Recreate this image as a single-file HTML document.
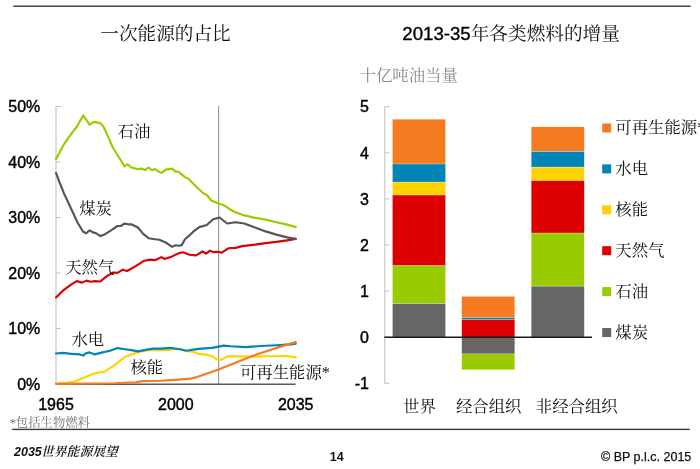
<!DOCTYPE html>
<html lang="zh-CN">
<head>
<meta charset="utf-8">
<title>2035世界能源展望</title>
<style>
html,body{margin:0;padding:0;background:#fff;}
body{width:700px;height:469px;overflow:hidden;font-family:"Liberation Sans","Noto Serif CJK SC",sans-serif;}
svg{display:block;}
text{fill:#111;}
.a16{font-family:"Liberation Sans",sans-serif;font-size:16px;fill:#000;stroke:#000;stroke-width:0.4px;}
.hv{fill:#000;stroke:#000;stroke-width:0.35px;}
.c16{font-family:"Liberation Sans","Noto Serif CJK SC",serif;font-size:16.4px;}
.ast{font-family:"Liberation Serif",serif;}
.title{font-family:"Liberation Sans","Noto Serif CJK SC",serif;font-size:18.65px;}
.sub{font-family:"Liberation Sans","Noto Serif CJK SC",serif;font-size:16.4px;fill:#8a8a8a;}
.fn{font-family:"Liberation Sans","Noto Serif CJK SC",serif;font-size:12.4px;fill:#737373;}
.ft{font-family:"Liberation Sans","Noto Serif CJK SC",serif;font-size:12.5px;}
</style>
</head>
<body>
<svg width="700" height="469" viewBox="0 0 700 469">
<rect x="0" y="0" width="700" height="469" fill="#ffffff"/>
<!-- rules -->
<rect x="13.2" y="5.5" width="677.5" height="1.4" fill="#3a3a3a"/>
<rect x="12.2" y="428.7" width="677.5" height="1.4" fill="#3a3a3a"/>

<!-- titles -->
<text class="title" x="165.5" y="39.6" text-anchor="middle">一次能源的占比</text>
<text class="title" x="402.3" y="39.9"><tspan class="hv">2013-35</tspan>年各类燃料的增量</text>
<text class="sub" x="359.5" y="80.6">十亿吨油当量</text>

<!-- line chart axes -->
<line x1="56" y1="106" x2="56" y2="384" stroke="#bfbfbf" stroke-width="1"/>
<line x1="56" y1="106.5" x2="60.5" y2="106.5" stroke="#bfbfbf" stroke-width="1"/>
<text class="a16" x="40.3" y="389.7" text-anchor="end">0%</text>
<line x1="56" y1="328.5" x2="60.5" y2="328.5" stroke="#bfbfbf" stroke-width="1"/>
<text class="a16" x="40.3" y="334.2" text-anchor="end">10%</text>
<line x1="56" y1="273.0" x2="60.5" y2="273.0" stroke="#bfbfbf" stroke-width="1"/>
<text class="a16" x="40.3" y="278.7" text-anchor="end">20%</text>
<line x1="56" y1="217.5" x2="60.5" y2="217.5" stroke="#bfbfbf" stroke-width="1"/>
<text class="a16" x="40.3" y="223.2" text-anchor="end">30%</text>
<line x1="56" y1="162.0" x2="60.5" y2="162.0" stroke="#bfbfbf" stroke-width="1"/>
<text class="a16" x="40.3" y="167.7" text-anchor="end">40%</text>
<line x1="56" y1="106.5" x2="60.5" y2="106.5" stroke="#bfbfbf" stroke-width="1"/>
<text class="a16" x="40.3" y="112.2" text-anchor="end">50%</text>
<line x1="218.6" y1="106" x2="218.6" y2="384" stroke="#949494" stroke-width="1.1"/>
<line x1="56" y1="384.2" x2="295.6" y2="384.2" stroke="#595959" stroke-width="1.5"/>

<!-- series -->
<polyline points="56.0,158.9 59.6,152.5 62.9,146.1 67.1,139.6 72.5,132.1 76.8,126.8 83.2,115.4 89.6,124.6 93.9,121.9 100.4,123.1 103.6,126.8 107.9,136.4 113.2,148.2 118.6,156.8 124.4,166.4 127.6,164.3 131.4,167.5 137.9,169.2 141.1,168.6 145.4,169.9 148.6,167.5 151.8,170.3 155.0,169.0 158.2,171.4 161.4,172.9 165.7,169.6 172.1,168.6 175.4,171.4 178.6,171.8 185.0,177.1 188.6,178.9 197.1,187.5 203.6,193.5 206.8,195.0 211.1,200.4 218.6,203.6 223.9,205.3 233.6,211.5 244.3,215.4 255.0,217.9 265.7,219.6 276.4,222.2 287.1,224.6 295.7,227.1" fill="none" stroke="#99cc00" stroke-width="2.15" stroke-linejoin="round" stroke-linecap="round"/>
<polyline points="56.0,297.6 62.9,290.7 71.4,284.3 76.8,281.1 82.1,282.6 86.4,280.6 90.7,281.7 95.0,281.1 100.4,281.5 106.8,276.1 113.2,272.5 117.5,272.9 122.9,269.7 127.1,271.0 135.7,266.1 144.3,260.7 150.7,259.6 155.0,260.3 161.4,257.1 164.6,259.0 172.1,256.4 178.6,253.2 182.9,252.3 189.6,254.7 196.1,255.4 202.5,251.5 206.1,253.6 210.0,250.6 213.2,252.1 217.5,251.7 221.8,252.6 228.2,248.3 235.7,247.9 242.1,246.1 255.0,244.6 265.7,243.1 276.4,241.9 287.1,240.4 295.7,238.9" fill="none" stroke="#dc0000" stroke-width="2.15" stroke-linejoin="round" stroke-linecap="round"/>
<polyline points="56.0,172.9 59.6,182.5 63.9,193.2 70.4,207.1 77.9,223.2 83.2,231.8 86.4,233.3 89.6,230.3 92.9,232.4 96.1,233.3 100.4,236.1 104.6,234.4 111.1,230.3 117.5,226.0 120.7,226.0 124.4,223.6 128.2,224.3 131.4,224.3 137.9,227.5 143.2,233.9 148.6,238.2 155.0,239.3 159.3,239.7 165.7,242.5 172.1,246.8 175.4,245.3 179.6,245.7 181.8,245.1 185.0,239.3 190.4,234.6 193.5,231.4 199.3,227.1 206.8,225.0 213.2,219.2 219.6,217.5 227.1,223.5 235.7,222.2 244.3,223.5 255.0,227.6 265.7,231.4 276.4,234.6 287.1,237.4 295.7,238.9" fill="none" stroke="#555555" stroke-width="2.15" stroke-linejoin="round" stroke-linecap="round"/>
<polyline points="56.0,383.5 67.1,382.9 73.6,381.8 82.1,378.6 92.9,373.9 100.4,372.1 103.6,372.1 114.3,365.3 123.9,357.6 131.4,354.4 140.0,351.8 148.6,350.3 157.1,350.1 165.7,350.1 174.3,349.2 180.0,348.8 186.4,351.1 192.9,351.8 199.3,353.9 205.7,354.6 212.1,356.1 215.2,358.5 218.6,360.0 221.6,359.6 227.5,356.4 237.9,356.2 252.8,356.6 268.5,356.3 287.4,356.1 295.7,357.3" fill="none" stroke="#ffd200" stroke-width="2.15" stroke-linejoin="round" stroke-linecap="round"/>
<polyline points="56.0,353.5 62.9,352.9 71.4,353.9 80.0,354.4 83.2,355.6 85.4,353.5 89.6,352.4 95.0,354.4 100.4,352.9 110.0,350.7 117.5,348.1 125.0,349.2 131.4,350.1 137.9,351.4 144.3,350.1 152.9,348.6 161.4,348.6 170.0,347.9 178.6,349.0 186.4,350.7 192.9,349.6 201.4,348.6 212.1,347.9 218.6,346.6 223.8,345.6 230.9,346.3 245.0,347.1 260.7,346.0 276.4,345.2 290.6,344.4 295.7,343.7" fill="none" stroke="#0085b6" stroke-width="2.15" stroke-linejoin="round" stroke-linecap="round"/>
<polyline points="56.0,383.9 114.3,383.3 135.7,382.4 142.1,381.1 161.4,380.7 178.6,379.6 190.7,378.6 197.1,377.1 205.7,373.9 218.6,369.6 233.6,363.6 255.0,355.0 276.4,347.9 295.7,342.1" fill="none" stroke="#f47b20" stroke-width="2.15" stroke-linejoin="round" stroke-linecap="round"/>

<!-- series labels -->
<text class="c16" x="117.6" y="137">石油</text>
<text class="c16" x="79.2" y="213.8">煤炭</text>
<text class="c16" x="65.2" y="273">天然气</text>
<text class="c16" x="71.4" y="345.3">水电</text>
<text class="c16" x="130.4" y="372.8">核能</text>
<text class="c16" x="239.9" y="377.8">可再生能源<tspan class="ast">*</tspan></text>

<!-- x labels -->
<text class="a16" x="56" y="410.1" text-anchor="middle">1965</text>
<text class="a16" x="175.8" y="410.1" text-anchor="middle">2000</text>
<text class="a16" x="295.7" y="410.1" text-anchor="middle">2035</text>
<text class="fn" x="9.6" y="427"><tspan class="ast" font-size="13.5" dy="-0.4">*</tspan><tspan dy="0.4" dx="-0.5">包括生物燃料</tspan></text>

<!-- bar chart -->
<line x1="384.8" y1="106.5" x2="384.8" y2="383.6" stroke="#bfbfbf" stroke-width="1"/>
<line x1="384.8" y1="383.3" x2="389.5" y2="383.3" stroke="#bfbfbf" stroke-width="1"/>
<text class="a16" x="369" y="389.0" text-anchor="end">-1</text>
<line x1="384.8" y1="337.2" x2="389.5" y2="337.2" stroke="#bfbfbf" stroke-width="1"/>
<text class="a16" x="369" y="342.9" text-anchor="end">0</text>
<line x1="384.8" y1="291.1" x2="389.5" y2="291.1" stroke="#bfbfbf" stroke-width="1"/>
<text class="a16" x="369" y="296.8" text-anchor="end">1</text>
<line x1="384.8" y1="245.0" x2="389.5" y2="245.0" stroke="#bfbfbf" stroke-width="1"/>
<text class="a16" x="369" y="250.7" text-anchor="end">2</text>
<line x1="384.8" y1="198.9" x2="389.5" y2="198.9" stroke="#bfbfbf" stroke-width="1"/>
<text class="a16" x="369" y="204.6" text-anchor="end">3</text>
<line x1="384.8" y1="152.8" x2="389.5" y2="152.8" stroke="#bfbfbf" stroke-width="1"/>
<text class="a16" x="369" y="158.5" text-anchor="end">4</text>
<line x1="384.8" y1="106.7" x2="389.5" y2="106.7" stroke="#bfbfbf" stroke-width="1"/>
<text class="a16" x="369" y="112.4" text-anchor="end">5</text>
<rect x="392.6" y="119.4" width="52.8" height="44.5" fill="#f47b20"/>
<rect x="392.6" y="163.9" width="52.8" height="18.2" fill="#0085b6"/>
<rect x="392.6" y="182.1" width="52.8" height="12.9" fill="#ffd200"/>
<rect x="392.6" y="195.0" width="52.8" height="70.7" fill="#dc0000"/>
<rect x="392.6" y="265.7" width="52.8" height="38.0" fill="#99cc00"/>
<rect x="392.6" y="303.7" width="52.8" height="33.5" fill="#666666"/>
<rect x="392.6" y="163.6" width="52.8" height="0.7" fill="#fff" opacity="0.45"/>
<rect x="392.6" y="181.8" width="52.8" height="0.7" fill="#fff" opacity="0.45"/>
<rect x="392.6" y="194.7" width="52.8" height="0.7" fill="#fff" opacity="0.45"/>
<rect x="392.6" y="265.3" width="52.8" height="0.7" fill="#fff" opacity="0.45"/>
<rect x="392.6" y="303.3" width="52.8" height="0.7" fill="#fff" opacity="0.45"/>
<rect x="461.8" y="296.5" width="52.8" height="21.0" fill="#f47b20"/>
<rect x="461.8" y="317.5" width="52.8" height="2.1" fill="#0085b6"/>
<rect x="461.8" y="319.6" width="52.8" height="17.6" fill="#dc0000"/>
<rect x="461.8" y="337.2" width="52.8" height="16.7" fill="#666666"/>
<rect x="461.8" y="353.9" width="52.8" height="15.7" fill="#99cc00"/>
<rect x="461.8" y="317.1" width="52.8" height="0.7" fill="#fff" opacity="0.45"/>
<rect x="461.8" y="319.2" width="52.8" height="0.7" fill="#fff" opacity="0.45"/>
<rect x="461.8" y="353.5" width="52.8" height="0.7" fill="#fff" opacity="0.45"/>
<rect x="531.4" y="126.9" width="52.8" height="24.6" fill="#f47b20"/>
<rect x="531.4" y="151.5" width="52.8" height="15.7" fill="#0085b6"/>
<rect x="531.4" y="167.2" width="52.8" height="13.4" fill="#ffd200"/>
<rect x="531.4" y="180.6" width="52.8" height="52.4" fill="#dc0000"/>
<rect x="531.4" y="233.0" width="52.8" height="53.2" fill="#99cc00"/>
<rect x="531.4" y="286.2" width="52.8" height="51.0" fill="#666666"/>
<rect x="531.4" y="151.2" width="52.8" height="0.7" fill="#fff" opacity="0.45"/>
<rect x="531.4" y="166.8" width="52.8" height="0.7" fill="#fff" opacity="0.45"/>
<rect x="531.4" y="180.2" width="52.8" height="0.7" fill="#fff" opacity="0.45"/>
<rect x="531.4" y="232.7" width="52.8" height="0.7" fill="#fff" opacity="0.45"/>
<rect x="531.4" y="285.8" width="52.8" height="0.7" fill="#fff" opacity="0.45"/>
<line x1="384.3" y1="337.3" x2="592" y2="337.3" stroke="#1a1a1a" stroke-width="1.5"/>
<text class="c16" x="419.5" y="412" text-anchor="middle">世界</text>
<text class="c16" x="488.7" y="412" text-anchor="middle">经合组织</text>
<text class="c16" x="576.8" y="412" text-anchor="middle">非经合组织</text>
<rect x="602.2" y="123.5" width="9" height="9" fill="#f47b20"/>
<text class="c16" x="615.3" y="133.4">可再生能源<tspan class="ast">*</tspan></text>
<rect x="602.2" y="164.4" width="9" height="9" fill="#0085b6"/>
<text class="c16" x="615.3" y="174.3">水电</text>
<rect x="602.2" y="205.3" width="9" height="9" fill="#ffd200"/>
<text class="c16" x="615.3" y="215.2">核能</text>
<rect x="602.2" y="246.2" width="9" height="9" fill="#dc0000"/>
<text class="c16" x="615.3" y="256.1">天然气</text>
<rect x="602.2" y="287.1" width="9" height="9" fill="#99cc00"/>
<text class="c16" x="615.3" y="297.0">石油</text>
<rect x="602.2" y="328.0" width="9" height="9" fill="#666666"/>
<text class="c16" x="615.3" y="337.9">煤炭</text>

<!-- footer -->
<text class="ft" x="14" y="456" font-weight="bold" font-style="italic">2035<tspan font-size="12.8" font-weight="600" dx="-0.8">世界能源展望</tspan></text>
<text class="ft" x="336.8" y="461.1" font-weight="bold" text-anchor="middle">14</text>
<text class="ft" x="691.3" y="461.1" text-anchor="end" stroke="#111" stroke-width="0.25">© BP p.l.c. 2015</text>
</svg>
</body>
</html>
